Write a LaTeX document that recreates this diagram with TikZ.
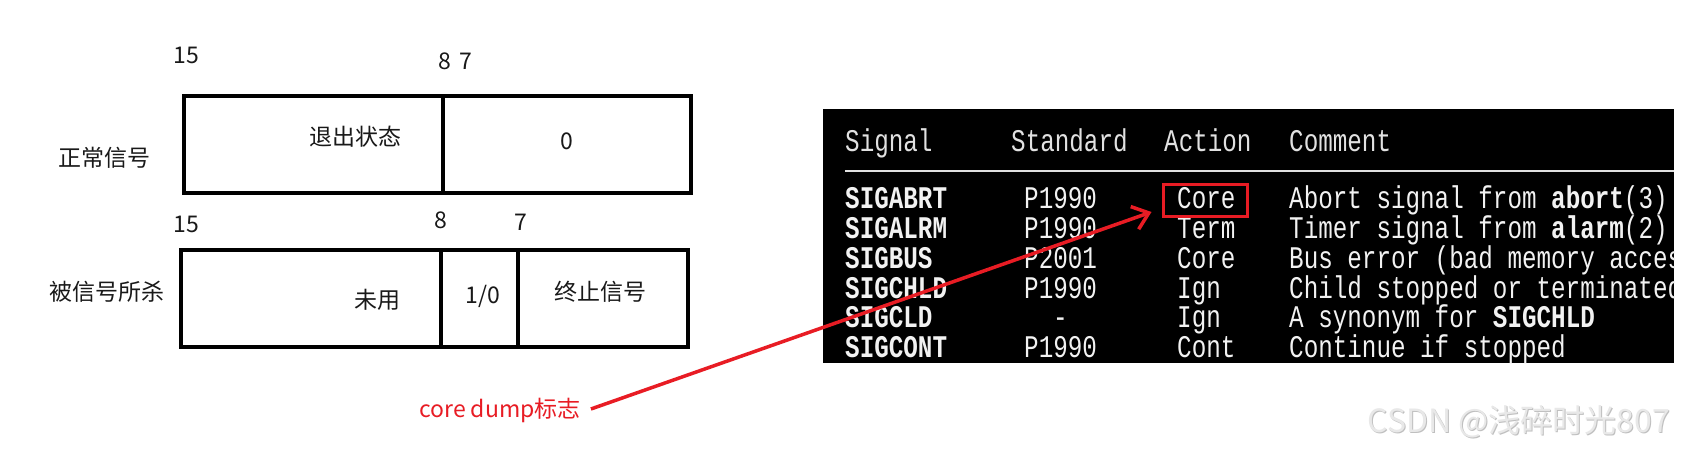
\documentclass[tikz,border=0pt]{standalone}
\usepackage{fontspec}
\newfontfamily\cjk{Noto Sans CJK SC}
\newfontfamily\mono[FakeStretch=0.77]{Liberation Mono}
\usetikzlibrary{arrows.meta}
\definecolor{redmark}{RGB}{232,28,36}
\definecolor{termwhite}{RGB}{242,242,242}
\definecolor{termhead}{RGB}{225,225,225}
\begin{document}
\begin{tikzpicture}[x=1pt,y=-1pt,
  lab/.style={font=\cjk\fontsize{23}{23}\selectfont, inner sep=0pt, text=black!90},
  bitbox/.style={draw=black, line width=3.5pt},
  term/.style={font=\mono\fontsize{31.5}{31.5}\selectfont, text=termwhite, anchor=base west, inner sep=0pt},
  termhd/.style={term, text=termhead},
  termb/.style={term, font=\mono\bfseries\fontsize{31.5}{31.5}\selectfont},
  redtxt/.style={font=\cjk\fontsize{23}{23}\selectfont, inner sep=0pt, text=redmark},
  wm/.style={font=\cjk\fontsize{32}{32}\selectfont, inner sep=0pt}
]
\useasboundingbox (0,0) rectangle (1687,453);
\fill[white] (0,0) rectangle (1687,453);

% ---- left bit layout diagrams ----
\draw[bitbox] (184,96) rectangle (691,193);
\draw[bitbox] (443,96) -- (443,193);
\draw[bitbox] (181,250) rectangle (688,347);
\draw[bitbox] (441,250) -- (441,347);
\draw[bitbox] (518,250) -- (518,347);

\node[lab] (n15a) at (186,55) {15};
\node[lab] (n87)  at (455,61) {8\hspace{3pt} 7};
\node[lab] (exit) at (355,137) {退出状态};
\node[lab] (zero) at (567,141) {0};
\node[lab] (norm) at (104,158) {正常信号};
\node[lab] (n15b) at (186,224) {15};
\node[lab] (n8)   at (441,220) {8};
\node[lab] (n7)   at (521,222) {7};
\node[lab] (unused) at (377,300) {未用};
\node[lab] (flag)   at (483,296) {1/0};
\node[lab] (termsig) at (600,292) {终止信号};
\node[lab] (killed) at (107,292) {被信号所杀};

\node[redtxt] (cd) at (500,410) {core dump标志};

% ---- terminal screenshot ----
\fill[black] (823,109) rectangle (1674,363);
\begin{scope}
\clip (823,109) rectangle (1674,363);
\node[termhd] (h1) at (845,151) {Signal};
\node[termhd] (h2) at (1011,151) {Standard};
\node[termhd] (h3) at (1164,151) {Action};
\node[termhd] (h4) at (1289,151) {Comment};
\draw[termhead, line width=1.5pt] (845,171) -- (1674,171);

\node[termb] (s1) at (845,208) {SIGABRT};
\node[termb] (s2) at (845,238) {SIGALRM};
\node[termb] (s3) at (845,268) {SIGBUS};
\node[termb] (s4) at (845,298) {SIGCHLD};
\node[termb] (s5) at (845,327) {SIGCLD};
\node[termb] (s6) at (845,357) {SIGCONT};

\node[term] (p1) at (1024,208) {P1990};
\node[term] (p2) at (1024,238) {P1990};
\node[term] (p3) at (1024,268) {P2001};
\node[term] (p4) at (1024,298) {P1990};
\node[term] (p5) at (1053,327) {-};
\node[term] (p6) at (1024,357) {P1990};

\node[term] (a1) at (1177,208) {Core};
\node[term] (a2) at (1177,238) {Term};
\node[term] (a3) at (1177,268) {Core};
\node[term] (a4) at (1177,298) {Ign};
\node[term] (a5) at (1177,327) {Ign};
\node[term] (a6) at (1177,357) {Cont};

\node[term] (c1) at (1289,208) {Abort signal from {\bfseries abort}(3)};
\node[term] (c2) at (1289,238) {Timer signal from {\bfseries alarm}(2)};
\node[term] (c3) at (1289,268) {Bus error (bad memory access)};
\node[term] (c4) at (1289,298) {Child stopped or terminated};
\node[term] (c5) at (1289,327) {A synonym for {\bfseries SIGCHLD}};
\node[term] (c6) at (1289,357) {Continue if stopped};
\end{scope}

\node[draw=redmark, line width=3pt, minimum width=84pt, minimum height=32pt, inner sep=0pt] (corebox) at (1205,200.5) {};

% ---- arrow ----
\draw[redmark, line width=3.5pt, -{Straight Barb[length=15pt,width=24pt]}]
  ([xshift=10pt,yshift=1pt]cd.east) -- ([xshift=-10pt,yshift=6pt]corebox.south west);

% ---- watermark ----
\node[wm, text=gray!50] (wms) at (1520,423) {CSDN @浅碎时光807};
\node[wm, text=gray!18] (wm) at (1519,422) {CSDN @浅碎时光807};
\end{tikzpicture}
\end{document}
